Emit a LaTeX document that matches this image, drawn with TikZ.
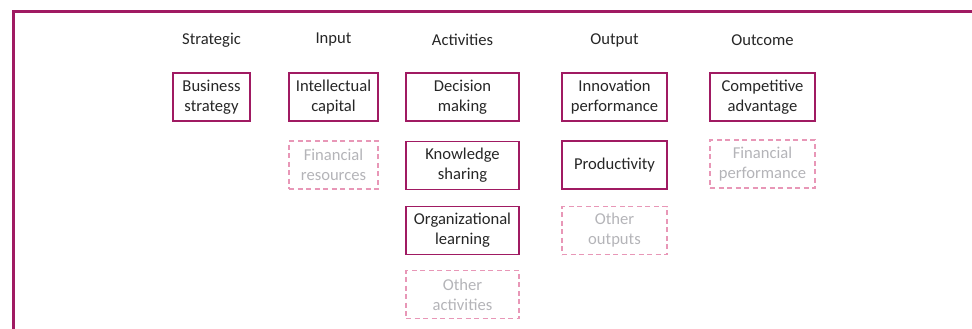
\documentclass[tikz,border=0pt]{standalone}
\usepackage{fontspec}
\setmainfont{Carlito}
\usepackage{tikz}
\definecolor{berry}{HTML}{A01A62}
\definecolor{rose}{HTML}{E897B7}
\definecolor{greytxt}{HTML}{B4B4B8}

\begin{document}
\begin{tikzpicture}[x=1pt,y=-1pt,
  every node/.style={font=\fontsize{16.6}{20}\selectfont,text=black!85,align=center,inner sep=0pt},
  head/.style={},
  box/.style={draw=berry,line width=1.3pt,minimum height=48pt},
  other/.style={draw=rose,line width=1.2pt,dash pattern=on 5pt off 3.5pt,minimum height=48pt,text=greytxt}]
\useasboundingbox (0,0) rectangle (972,329);
\draw[berry,line width=2.6pt] (13.5,329)--(13.5,11.5)--(972,11.5);
% column titles
\node[head] (hstrat) at (211.5,40){Strategic};\node[head] (hin) at (333.5,40){Input};
\node[head] (hact) at (462.5,40){Activities};\node[head] (hout) at (614.5,40){Output};
\node[head] (hres) at (762.5,40){Outcome};
% strategic + input
\node[box,minimum width=77pt] (strat) at (211.5,97){Business\\strategy};
\node[box,minimum width=89pt] (intcap) at (333.5,97){Intellectual\\capital};
\node[other,minimum width=89pt] (finres) at (333.5,165){Financial\\resources};
% activities
\node[box,minimum width=113pt] (decide) at (462.5,97){Decision\\making};
\node[box,minimum width=113pt] (share) at (462.5,165.5){Knowledge\\sharing};
\node[box,minimum width=113pt] (learn) at (462.5,230.5){Organizational\\learning};
\node[other,minimum width=113pt] (othact) at (462.5,294.5){Other\\activities};
% output
\node[box,minimum width=105pt] (innov) at (614.5,97){Innovation\\performance};
\node[box,minimum width=105pt] (prod) at (614.5,165){Productivity};
\node[other,minimum width=105pt] (othout) at (614.5,230.5){Other\\outputs};
% outcome
\node[box,minimum width=105pt] (compadv) at (762.5,97){Competitive\\advantage};
\node[other,minimum width=105pt] (finperf) at (762.5,164){Financial\\performance};
\end{tikzpicture}
\end{document}
